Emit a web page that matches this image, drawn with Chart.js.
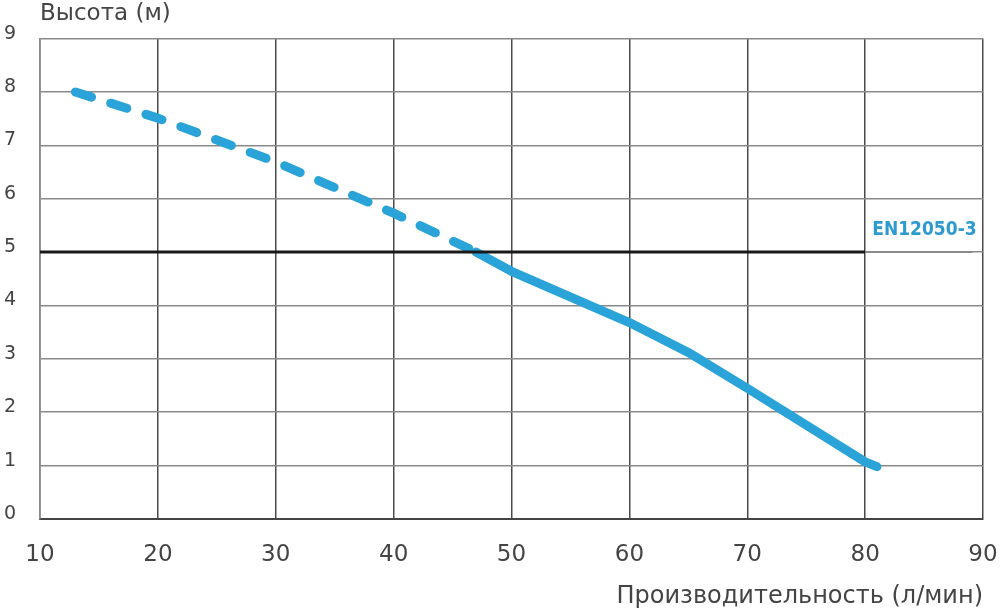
<!DOCTYPE html>
<html>
<head>
<meta charset="utf-8">
<script src="https://cdn.jsdelivr.net/npm/chart.js@4"></script>
<style>
  html, body { margin: 0; padding: 0; background: #fff; }
  #wrap { width: 1000px; height: 615px; }
</style>
</head>
<body>
<div id="wrap"><canvas id="myChart"></canvas></div>
<script>
// кривая насоса: пунктирная (за пределами нормы) и сплошная части
const dashFlow = [13, 20, 30, 40, 47];
const dashHead = [8.0, 7.51, 6.69, 5.73, 5.0];
const solidFlow = [47, 50, 60, 65, 70, 80, 81];
const solidHead = [5.0, 4.64, 3.68, 3.12, 2.45, 1.07, 0.98];

// линия EN12050-3 на высоте 5 м
const normFlow = [10, 80];
const normTailFlow = [80, 89.1];
const normHead = 5;
const normLabel = "EN12050-3";

const xTicks = [10, 20, 30, 40, 50, 60, 70, 80, 90];
const yTicks = [0, 1, 2, 3, 4, 5, 6, 7, 8, 9];

const blue = "#29a3d8";
const textColor = "#444";
const fontFamily = '"DejaVu Sans", sans-serif';

function toPoints(xs, ys) {
    return xs.map((x, i) => ({ x: x, y: Array.isArray(ys) ? ys[i] : ys }));
}

const normLabelPlugin = {
    id: "normLabel",
    afterDatasetsDraw(chart) {
        const ctx = chart.ctx;
        const x = chart.scales.x.getPixelForValue(80.6);
        const y = chart.scales.y.getPixelForValue(5.42);
        ctx.save();
        ctx.font = 'bold 19px "Liberation Sans Narrow", "DejaVu Sans Condensed", sans-serif';
        ctx.fillStyle = "#2e9bd0";
        ctx.textAlign = "left";
        ctx.textBaseline = "middle";
        ctx.fillText(normLabel, x, y);
        ctx.restore();
    }
};

const config = {
    type: "line",
    data: {
        datasets: [
            {
                data: toPoints(normFlow, normHead),
                borderColor: "#1a1a1a",
                borderWidth: 3,
                pointRadius: 0
            },
            {
                data: toPoints(normTailFlow, normHead),
                borderColor: "#8a8a8a",
                borderWidth: 2,
                pointRadius: 0
            },
            {
                data: toPoints(dashFlow, dashHead),
                borderColor: blue,
                borderWidth: 9,
                borderDash: [17, 20],
                borderCapStyle: "round",
                borderJoinStyle: "round",
                pointRadius: 0
            },
            {
                data: toPoints(solidFlow, solidHead),
                borderColor: blue,
                borderWidth: 9,
                borderCapStyle: "round",
                borderJoinStyle: "round",
                pointRadius: 0
            }
        ]
    },
    options: {
        responsive: true,
        maintainAspectRatio: false,
        animation: false,
        layout: { padding: 0 },
        plugins: {
            legend: { display: false },
            tooltip: { enabled: false },
            title: {
                display: true,
                text: "Высота (м)",
                align: "start",
                fullSize: false,
                color: textColor,
                font: { family: fontFamily, size: 23, weight: "normal" },
                padding: { top: 0, bottom: 11 }
            }
        },
        scales: {
            x: {
                type: "linear",
                min: 10,
                max: 90,
                afterBuildTicks: (scale) => { scale.ticks = xTicks.map(v => ({ value: v })); },
                afterFit: (scale) => {
                    scale.height = 96;
                    scale.paddingLeft = 0;
                    scale.paddingRight = 17;
                },
                grid: { color: "#4a4a4a", lineWidth: 1.5, drawTicks: false },
                border: { color: "#444", width: 2 },
                ticks: {
                    color: textColor,
                    padding: 22,
                    font: { family: fontFamily, size: 23 }
                },
                title: {
                    display: true,
                    text: "Производительность (л/мин)",
                    align: "end",
                    color: textColor,
                    font: { family: fontFamily, size: 24 },
                    padding: { top: 0, bottom: 4 }
                }
            },
            y: {
                type: "linear",
                min: 0,
                max: 9,
                afterBuildTicks: (scale) => { scale.ticks = yTicks.map(v => ({ value: v })); },
                afterFit: (scale) => { scale.width = 40; },
                grid: { color: "#8a8a8a", lineWidth: 1.5, drawTicks: false },
                border: { color: "#8a8a8a", width: 1.5 },
                ticks: {
                    color: textColor,
                    padding: 24,
                    labelOffset: -5,
                    font: { family: fontFamily, size: 19 }
                }
            }
        }
    },
    plugins: [normLabelPlugin]
};

const ctx = document.getElementById("myChart").getContext("2d");
const myChart = new Chart(ctx, config);
</script>
</body>
</html>
